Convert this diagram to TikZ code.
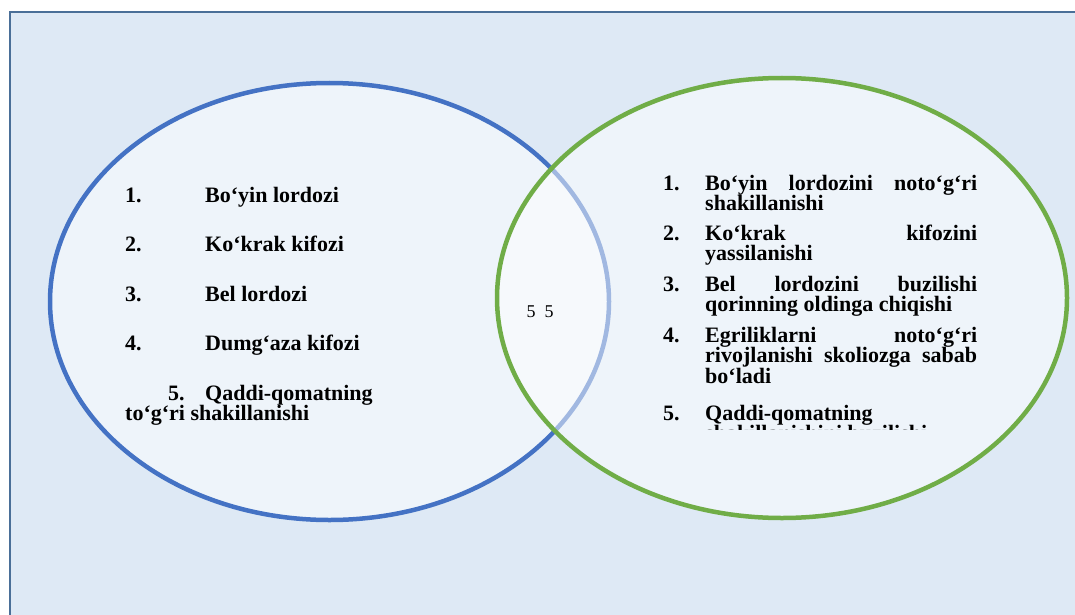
\documentclass[tikz,border=0pt]{standalone}
\usepackage{fontspec}
\setmainfont{Liberation Serif}
\definecolor{boxfill}{HTML}{DEE9F5}
\definecolor{boxline}{HTML}{4A6F98}
\definecolor{vennblue}{HTML}{4472C4}
\definecolor{venngreen}{HTML}{70AD47}
\newcommand{\jline}[1]{\makebox[272pt][s]{#1}}
\newcommand{\rtext}[1]{\parbox[t]{272pt}{#1}}
\tikzset{
  item/.style={anchor=base west, inner sep=0pt,
    font=\bfseries\fontsize{22}{20.5}\selectfont},
  venn/.style={line width=4.5pt, fill=white, fill opacity=0.5, draw opacity=1}
}
\begin{document}
\begin{tikzpicture}[x=1pt, y=-1pt]
  \useasboundingbox (0,0) rectangle (1075,615);
  \clip (0,0) rectangle (1075,615);
  \draw[boxline, line width=2.5pt, fill=boxfill] (10,12) rectangle (1100,640);
  % the two sets
  \draw[venn, draw=vennblue] (329.5,301.5) ellipse [x radius=279.5pt, y radius=218.5pt];
  \draw[venn, draw=venngreen] (782,298) ellipse [x radius=285pt, y radius=220pt];
  \node[anchor=base, inner sep=0pt, font=\fontsize{18}{18}\selectfont] (mid) at (540,317) {5\enspace5};
  % left set
  \node[item] (l1n) at (125,202) {1.};
  \node[item] (l1) at (205,202) {Bo‘yin lordozi};
  \node[item] (l2n) at (125,251) {2.};
  \node[item] (l2) at (205,251) {Ko‘krak kifozi};
  \node[item] (l3n) at (125,301) {3.};
  \node[item] (l3) at (205,301) {Bel lordozi};
  \node[item] (l4n) at (125,350) {4.};
  \node[item] (l4) at (205,350) {Dumg‘aza kifozi};
  \node[item] (l5n) at (168,400) {5.};
  \node[item] (l5) at (205,400) {Qaddi-qomatning};
  \node[item] (l5b) at (125,420) {to‘g‘ri shakillanishi};
  % right set
  \node[item] (r1n) at (663,190) {1.};
  \node[item] (r1) at (705,190) {\rtext{\jline{Bo‘yin lordozini noto‘g‘ri}\\shakillanishi}};
  \node[item] (r2n) at (663,240) {2.};
  \node[item] (r2) at (705,240) {\rtext{\jline{Ko‘krak kifozini}\\yassilanishi}};
  \node[item] (r3n) at (663,291) {3.};
  \node[item] (r3) at (705,291) {\rtext{\jline{Bel lordozini buzilishi}\\qorinning oldinga chiqishi}};
  \node[item] (r4n) at (663,342) {4.};
  \node[item] (r4) at (705,342) {\rtext{\jline{Egriliklarni noto‘g‘ri}\\\jline{rivojlanishi skoliozga sabab}\\bo‘ladi}};
  \begin{scope}
    \clip (640,395) rectangle (1000,429);
    \node[item] (r5n) at (663,420) {5.};
    \node[item] (r5) at (705,420) {\rtext{Qaddi-qomatning\\shakillanishini buzilishi}};
  \end{scope}
\end{tikzpicture}
\end{document}
